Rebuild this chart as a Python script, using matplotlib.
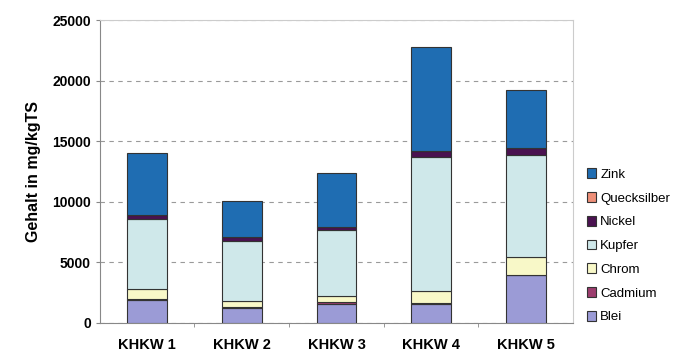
import matplotlib.pyplot as plt
import numpy as np

plt.rcParams['font.family'] = ['Liberation Sans', 'DejaVu Sans']

# Metallgehalte je Kraftwerk in mg/kgTS
werke = ['KHKW 1', 'KHKW 2', 'KHKW 3', 'KHKW 4', 'KHKW 5']
blei = [1900, 1250, 1600, 1600, 3950]
cadmium = [50, 30, 100, 50, 50]
chrom = [850, 550, 500, 950, 1450]
kupfer = [5800, 4950, 5500, 11100, 8450]
nickel = [300, 300, 200, 500, 550]
quecksilber = [10, 10, 10, 10, 10]
zink = [5100, 2950, 4500, 8600, 4800]

serien = [
    ('Blei', blei, '#9b9bd6'),
    ('Cadmium', cadmium, '#9c3d6e'),
    ('Chrom', chrom, '#f8f8c8'),
    ('Kupfer', kupfer, '#cfe8ea'),
    ('Nickel', nickel, '#4a1250'),
    ('Quecksilber', quecksilber, '#ee8f78'),
    ('Zink', zink, '#1f6db2'),
]

fig = plt.figure(figsize=(6.79, 3.53), dpi=100)
ax = fig.add_axes([0.147, 0.085, 0.697, 0.858])

x = np.arange(len(werke))
unten = np.zeros(len(werke))
handles = []
for name, werte, farbe in serien:
    b = ax.bar(x, werte, 0.42, bottom=unten, color=farbe,
               edgecolor='#333333', linewidth=0.8, label=name, zorder=3)
    handles.append(b)
    unten += np.array(werte)

ax.set_xlim(-0.5, len(werke) - 0.5)
ax.set_ylim(0, 25000)
ax.set_yticks(range(0, 25001, 5000))
ax.yaxis.grid(True, linestyle=(0, (4, 4)), color='#9a9a9a', linewidth=0.8)
ax.set_axisbelow(True)

ax.set_xticks(x)
ax.set_xticklabels(werke, fontweight='bold', fontsize=10.5)
ax.set_xticks(np.arange(0.5, len(werke) - 0.5), minor=True)
ax.tick_params(axis='x', which='major', length=0, pad=11)
ax.tick_params(axis='x', which='minor', length=3, color='#888888')
ax.tick_params(axis='y', length=3, color='#888888', labelsize=10)
for lbl in ax.get_yticklabels():
    lbl.set_fontweight('bold')

for side in ['left', 'bottom']:
    ax.spines[side].set_color('#888888')
for side in ['top', 'right']:
    ax.spines[side].set_color('#cccccc')

ax.set_ylabel('Gehalt in mg/kgTS', fontsize=11.5, fontweight='bold', labelpad=8)

fig.legend(handles[::-1], [s[0] for s in serien][::-1],
           loc='upper left', bbox_to_anchor=(0.856, 0.538),
           frameon=False, fontsize=9.5, handlelength=0.75, handleheight=0.75,
           handletextpad=0.3, labelspacing=0.86, borderaxespad=0)

fig.savefig('out.png', dpi=100)
